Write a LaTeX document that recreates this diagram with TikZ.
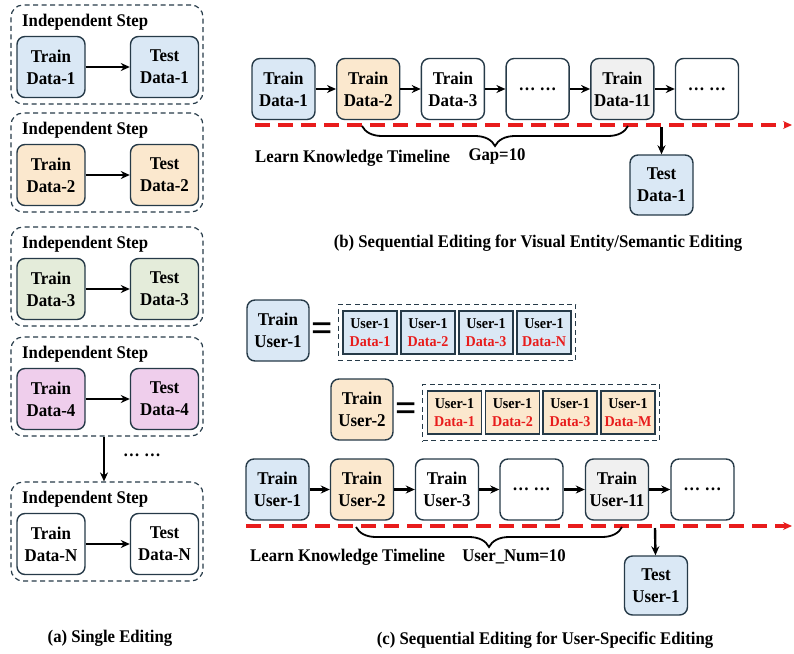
\documentclass[tikz,border=0pt]{standalone}
\usepackage{fontspec}
\setmainfont{Liberation Serif}[FakeStretch=0.94]
\usetikzlibrary{fit,arrows.meta,decorations.pathreplacing}

\definecolor{edgecol}{RGB}{38,58,72}
\definecolor{fillblue}{RGB}{218,232,245}
\definecolor{fillorange}{RGB}{251,232,206}
\definecolor{fillgreen}{RGB}{228,236,218}
\definecolor{fillpink}{RGB}{239,206,236}
\definecolor{fillgrey}{RGB}{240,240,240}
\definecolor{timered}{RGB}{232,28,28}

\tikzset{
  databox/.style={draw=edgecol, line width=1.4pt, rounded corners=8pt, minimum width=63pt,
    minimum height=61pt, inner sep=0pt, align=center, font=\fontsize{18}{22}\selectfont\bfseries},
  userbox/.style={draw=edgecol, line width=1.4pt, minimum width=54pt, minimum height=43pt,
    inner sep=0pt, align=center, font=\fontsize{15}{18}\selectfont\bfseries},
  stepframe/.style={draw=edgecol, line width=1.2pt, dash pattern=on 5pt off 3.5pt,
    rounded corners=12pt, minimum width=192pt, minimum height=99pt},
  groupframe/.style={draw=edgecol, line width=1.2pt, dash pattern=on 5pt off 3.5pt,
    inner xsep=4pt, inner ysep=6pt},
  flow/.style={->, line width=2.4pt},
  timeline/.style={->, timered, line width=3.2pt, dash pattern=on 15pt off 8pt},
  lbl/.style={font=\fontsize{17.8}{21}\selectfont\bfseries, inner sep=0pt},
  equal/.style={font=\fontsize{40}{40}\selectfont\bfseries, inner sep=0pt},
  gapbrace/.style={decorate, decoration={brace, mirror, amplitude=20pt}, line width=1.8pt},
}

\begin{document}
\begin{tikzpicture}[x=1pt, y=-1pt, >={Stealth[length=9pt,width=8pt]}]
    \useasboundingbox (0,0) rectangle (794,653);

    % (a) single editing
    \foreach \i/\top/\col in {1/5/fillblue, 2/113/fillorange, 3/227/fillgreen, 4/337/fillpink}{
        \node[stepframe] (frame\i) at (107,\top+49.5) {};
        \node[lbl, anchor=west] (step\i) at (22,\top+17) {Independent Step};
        \node[databox, fill=\col, minimum width=68pt] (atrain\i) at (51,\top+62) {Train\\Data-\i};
        \node[databox, fill=\col, minimum width=68pt] (atest\i) at (164.5,\top+62) {Test\\Data-\i};
        \draw[flow] (atrain\i) -- (atest\i);
    }
    \node[stepframe] (frame5) at (107,531.5) {};
    \node[lbl, anchor=west] (step5) at (22,499) {Independent Step};
    \node[databox, fill=white, minimum width=68pt] (atrainN) at (51,544) {Train\\Data-N};
    \node[databox, fill=white, minimum width=68pt] (atestN) at (164.5,544) {Test\\Data-N};
    \draw[flow] (atrainN) -- (atestN);
    \draw[flow] ([xshift=-3pt]frame4.south) -- ([xshift=-3pt]frame5.north);
    \node[lbl] (adots) at (142,455) {… …};
    \node[lbl] (acap) at (110,638) {(a) Single Editing};

    % (b) sequential editing, visual entity/semantic
    \node[databox, fill=fillblue] (b1) at (283.5,89) {Train\\Data-1};
    \node[databox, fill=fillorange] (b2) at (368.2,89) {Train\\Data-2};
    \node[databox, fill=white] (b3) at (452.9,89) {Train\\Data-3};
    \node[databox, fill=white] (b4) at (537.6,89) {… …};
    \node[databox, fill=fillgrey] (b5) at (622.3,89) {Train\\Data-11};
    \node[databox, fill=white] (b6) at (707,89) {… …};
    \foreach \a/\b in {1/2, 2/3, 3/4, 4/5, 5/6}
        \draw[flow] (b\a) -- (b\b);

    \coordinate (bstart) at (255,125);
    \coordinate (bend) at (792,125);
    \draw[timeline] (bstart) -- (bend);
    \draw[gapbrace] (362,126) -- (628,126);
    \node[lbl, anchor=west] (blearn) at (255,158) {Learn Knowledge Timeline};
    \node[lbl] (bgap) at (497,156) {Gap=10};
    \coordinate (btap) at (661.5,127);
    \node[databox, fill=fillblue, minimum height=60pt] (btest) at (661.5,185) {Test\\Data-1};
    \draw[flow] (btap) -- (btest);
    \node[lbl] (bcap) at (538,243) {(b) Sequential Editing for Visual Entity/Semantic Editing};

    % (c) sequential editing, user-specific
    \node[databox, fill=fillblue, minimum width=62pt] (cu1) at (278,330.5) {Train\\User-1};
    \node[equal] (ceq1) at (322.5,332) {=};
    \foreach \k/\x/\d in {1/370/1, 2/428/2, 3/486/3, 4/544/N}
        \node[userbox, fill=fillblue] (cd\k) at (\x,332.5) {User-1\\\textcolor{timered}{Data-\d}};
    \node[groupframe, fit=(cd1)(cd4)] (cgrp1) {};

    \node[databox, fill=fillorange, minimum width=62pt] (cu2) at (362,409.5) {Train\\User-2};
    \node[equal] (ceq2) at (406.5,412) {=};
    \foreach \k/\x/\d in {1/454.5/1, 2/512.5/2, 3/570/3, 4/628/M}
        \node[userbox, fill=fillorange] (ce\k) at (\x,412.5) {User-1\\\textcolor{timered}{Data-\d}};
    \node[groupframe, fit=(ce1)(ce4)] (cgrp2) {};

    \node[databox, fill=fillblue] (c1) at (277.5,489.5) {Train\\User-1};
    \node[databox, fill=fillorange] (c2) at (362,489.5) {Train\\User-2};
    \node[databox, fill=white] (c3) at (447,489.5) {Train\\User-3};
    \node[databox, fill=white] (c4) at (531.5,489.5) {… …};
    \node[databox, fill=fillgrey] (c5) at (617,489.5) {Train\\User-11};
    \node[databox, fill=white] (c6) at (702.5,489.5) {… …};
    \foreach \a/\b in {1/2, 2/3, 3/4, 4/5, 5/6}
        \draw[flow] (c\a) -- (c\b);

    \coordinate (cstart) at (246,526);
    \coordinate (cend) at (792,526);
    \draw[timeline] (cstart) -- (cend);
    \draw[gapbrace] (356,527) -- (622,527);
    \node[lbl, anchor=west] (clearn) at (250,557) {Learn Knowledge Timeline};
    \node[lbl] (cgap) at (514,557) {User\_Num=10};
    \coordinate (ctap) at (655,528);
    \node[databox, fill=fillblue, minimum height=59pt] (ctest) at (656,585.5) {Test\\User-1};
    \draw[flow] (ctap) -- (ctest);
    \node[lbl] (ccap) at (545,640) {(c) Sequential Editing for User-Specific Editing};

\end{tikzpicture}
\end{document}
